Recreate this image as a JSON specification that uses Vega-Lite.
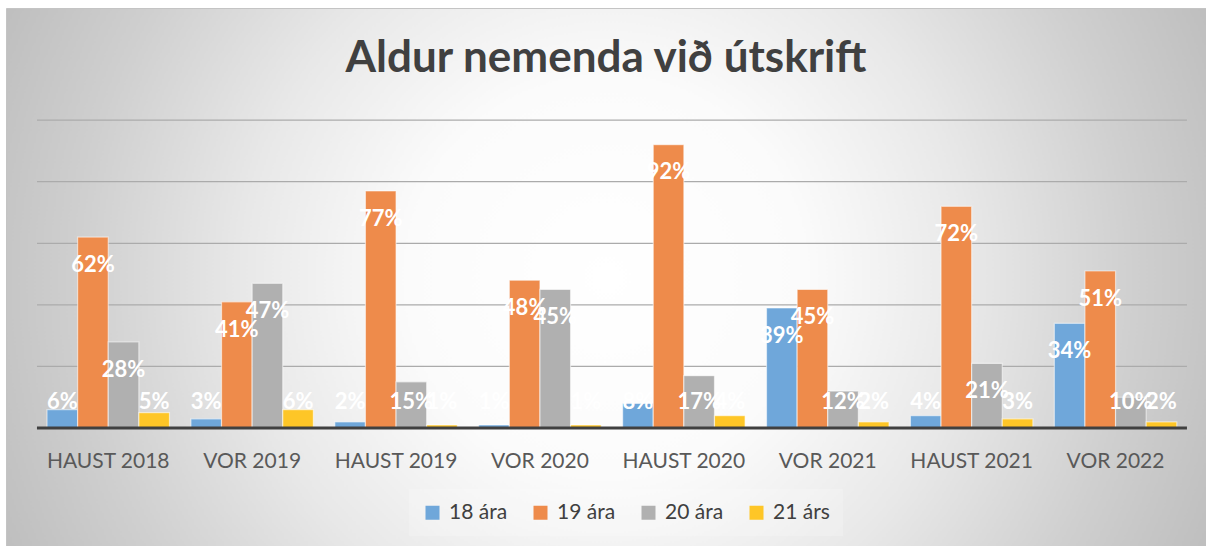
{
  "$schema": "https://vega.github.io/schema/vega-lite/v6.json",
  "width": 1200,
  "height": 538,
  "padding": {"left": 6, "top": 8, "right": 0, "bottom": 0},
  "autosize": {"type": "none"},
  "background": "#ffffff",
  "view": {
    "fill": {
      "gradient": "radial",
      "x1": 0.5, "y1": 0.5, "r1": 0,
      "x2": 0.5, "y2": 0.5, "r2": 0.55,
      "stops": [
        {"offset": 0, "color": "#ffffff"},
        {"offset": 0.3, "color": "#fbfbfb"},
        {"offset": 0.55, "color": "#e8e8e8"},
        {"offset": 0.8, "color": "#cfcfcf"},
        {"offset": 1, "color": "#bebebe"}
      ]
    },
    "stroke": "#c4c4c4"
  },
  "title": {
    "text": "Aldur nemenda við útskrift",
    "font": "Lato",
    "fontSize": 44,
    "fontWeight": "bold",
    "color": "#404040",
    "anchor": "middle",
    "baseline": "alphabetic",
    "offset": -108
  },
  "data": {
    "values": [
      {"term": "HAUST 2018", "age": "18 ára", "pct": 6},
      {"term": "HAUST 2018", "age": "19 ára", "pct": 62},
      {"term": "HAUST 2018", "age": "20 ára", "pct": 28},
      {"term": "HAUST 2018", "age": "21 árs", "pct": 5},
      {"term": "VOR 2019", "age": "18 ára", "pct": 3},
      {"term": "VOR 2019", "age": "19 ára", "pct": 41},
      {"term": "VOR 2019", "age": "20 ára", "pct": 47},
      {"term": "VOR 2019", "age": "21 árs", "pct": 6},
      {"term": "HAUST 2019", "age": "18 ára", "pct": 2},
      {"term": "HAUST 2019", "age": "19 ára", "pct": 77},
      {"term": "HAUST 2019", "age": "20 ára", "pct": 15},
      {"term": "HAUST 2019", "age": "21 árs", "pct": 1},
      {"term": "VOR 2020", "age": "18 ára", "pct": 1},
      {"term": "VOR 2020", "age": "19 ára", "pct": 48},
      {"term": "VOR 2020", "age": "20 ára", "pct": 45},
      {"term": "VOR 2020", "age": "21 árs", "pct": 1},
      {"term": "HAUST 2020", "age": "18 ára", "pct": 8},
      {"term": "HAUST 2020", "age": "19 ára", "pct": 92},
      {"term": "HAUST 2020", "age": "20 ára", "pct": 17},
      {"term": "HAUST 2020", "age": "21 árs", "pct": 4},
      {"term": "VOR 2021", "age": "18 ára", "pct": 39},
      {"term": "VOR 2021", "age": "19 ára", "pct": 45},
      {"term": "VOR 2021", "age": "20 ára", "pct": 12},
      {"term": "VOR 2021", "age": "21 árs", "pct": 2},
      {"term": "HAUST 2021", "age": "18 ára", "pct": 4},
      {"term": "HAUST 2021", "age": "19 ára", "pct": 72},
      {"term": "HAUST 2021", "age": "20 ára", "pct": 21},
      {"term": "HAUST 2021", "age": "21 árs", "pct": 3},
      {"term": "VOR 2022", "age": "18 ára", "pct": 34},
      {"term": "VOR 2022", "age": "19 ára", "pct": 51},
      {"term": "VOR 2022", "age": "20 ára", "pct": 10},
      {"term": "VOR 2022", "age": "21 árs", "pct": 2}
    ]
  },
  "encoding": {
    "x": {
      "field": "term",
      "type": "nominal",
      "sort": null,
      "scale": {
        "domain": ["HAUST 2018", "VOR 2019", "HAUST 2019", "VOR 2020", "HAUST 2020", "VOR 2021", "HAUST 2021", "VOR 2022"],
        "paddingInner": 0.149, "paddingOuter": 0.244, "align": 0.584
      },
      "axis": {
        "title": null,
        "labelAngle": 0,
        "domain": false,
        "ticks": false,
        "tickSize": 0,
        "grid": false,
        "labelFont": "Lato",
        "labelFontSize": 21,
        "labelColor": "#595959",
        "labelBaseline": "alphabetic",
        "labelPadding": 38.5,
        "offset": -117.5
      }
    }
  },
  "layer": [
    {
      "data": {"values": [{"g": 20}, {"g": 40}, {"g": 60}, {"g": 80}, {"g": 100}]},
      "mark": {"type": "rule", "color": "#ababab", "strokeWidth": 1.2},
      "encoding": {
        "x": {"datum": "HAUST 2018", "type": "nominal", "bandPosition": -0.082},
        "x2": {"datum": "VOR 2022", "bandPosition": 1.083},
        "y": {"field": "g", "type": "quantitative", "scale": {"domain": [-38.3, 136.4], "nice": false, "zero": false}, "axis": null}
      }
    },
    {
      "mark": {"type": "bar", "stroke": "#ffffff", "strokeOpacity": 0.55, "strokeWidth": 1.2},
      "encoding": {
        "xOffset": {"field": "age", "type": "nominal", "scale": {"paddingInner": 0, "paddingOuter": 0}},
        "y": {"field": "pct", "type": "quantitative", "scale": {"domain": [-38.3, 136.4], "nice": false, "zero": false}, "axis": null},
        "y2": {"datum": 0},
        "color": {
          "field": "age",
          "type": "nominal",
          "scale": {"domain": ["18 ára", "19 ára", "20 ára", "21 árs"], "range": ["#6fa7da", "#ee8b4b", "#b0b0b0", "#fec627"]},
          "legend": {
            "orient": "none",
            "legendX": 403,
            "legendY": 481,
            "direction": "horizontal",
            "title": null,
            "symbolType": "square",
            "symbolSize": 196,
            "symbolStrokeWidth": 0,
            "labelFont": "Lato",
            "labelFontSize": 21,
            "labelColor": "#404040",
            "labelOffset": 6,
            "columnPadding": 22,
            "padding": 13,
            "fillColor": "rgba(255,255,255,0.2)"
          }
        }
      }
    },
    {
      "data": {"values": [{"b": 0}]},
      "mark": {"type": "rule", "color": "#404040", "strokeWidth": 3},
      "encoding": {
        "x": {"datum": "HAUST 2018", "type": "nominal", "bandPosition": -0.082},
        "x2": {"datum": "VOR 2022", "bandPosition": 1.083},
        "y": {"field": "b", "type": "quantitative", "scale": {"domain": [-38.3, 136.4], "nice": false, "zero": false}, "axis": null}
      }
    },
    {
      "transform": [
        {"calculate": "datum.pct - 9 > 8.3 ? datum.pct - 9 : 8.3", "as": "labelY"},
        {"calculate": "datum.pct + '%'", "as": "label"}
      ],
      "mark": {"type": "text", "font": "Lato", "fontSize": 22, "fontWeight": "bold", "color": "#ffffff", "baseline": "middle", "align": "center"},
      "encoding": {
        "xOffset": {"field": "age", "type": "nominal", "scale": {"paddingInner": 0, "paddingOuter": 0}},
        "y": {"field": "labelY", "type": "quantitative", "scale": {"domain": [-38.3, 136.4], "nice": false, "zero": false}, "axis": null},
        "text": {"field": "label", "type": "nominal"}
      }
    }
  ]
}
